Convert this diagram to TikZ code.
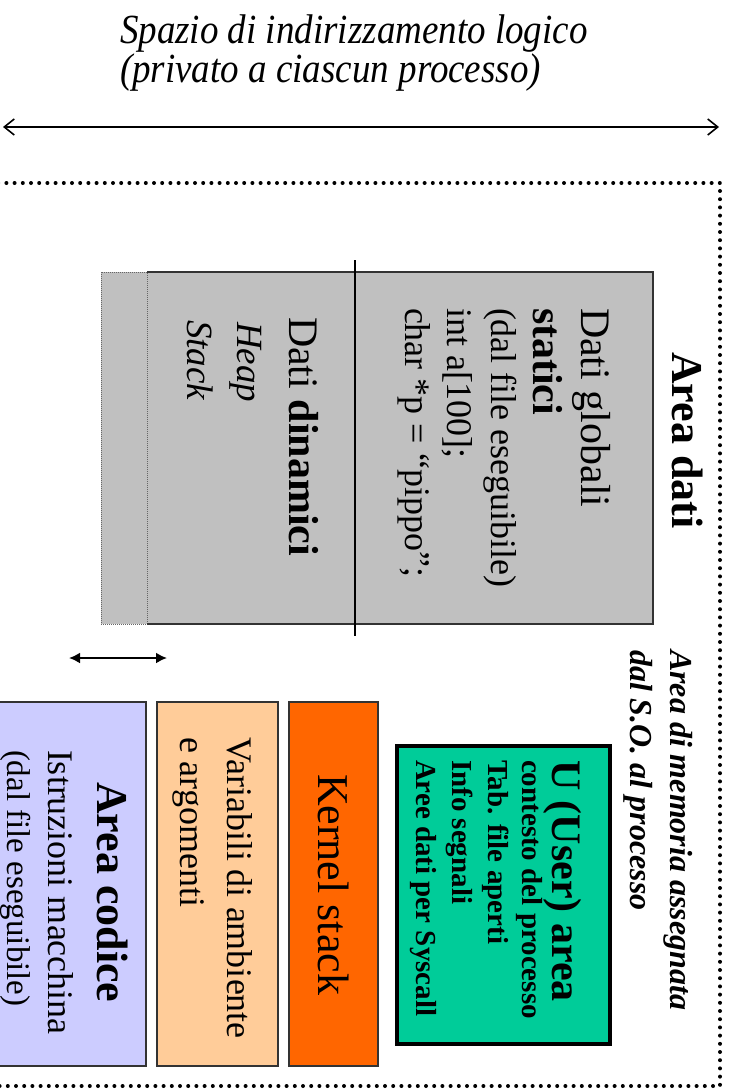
\documentclass[tikz,border=0pt]{standalone}
\usepackage{fontspec}
\setmainfont{Liberation Serif}
\usetikzlibrary{arrows.meta}
\definecolor{grayfill}{HTML}{C0C0C0}
\definecolor{greenfill}{HTML}{00CC99}
\definecolor{orangefill}{HTML}{FF6600}
\definecolor{peachfill}{HTML}{FFCC99}
\definecolor{lavfill}{HTML}{CCCCFF}
\definecolor{edgecol}{HTML}{333333}
\newcommand{\setfs}[1]{\fontsize{#1}{#1}\selectfont}
\begin{document}
\begin{tikzpicture}[x=1pt,y=-1pt,
  rt/.style={rotate=-90, anchor=base west, inner sep=0pt, outer sep=0pt},
  hz/.style={anchor=base west, inner sep=0pt, outer sep=0pt},
  boxedge/.style={draw=edgecol, line width=1.5pt},
  dotline/.style={line width=4pt, line cap=round, dash pattern=on 0pt off 8.2pt},
  toparrow/.style={line width=1.6pt, {Straight Barb[length=10pt,width=16pt,line width=1.6pt]}-{Straight Barb[length=10pt,width=16pt,line width=1.6pt]}},
  smallarrow/.style={line width=2pt, {Latex[length=11pt,width=11pt]}-{Latex[length=11pt,width=11pt]}}
]
\useasboundingbox (0,0) rectangle (731,1089);
\clip (0,0) rectangle (731,1089);
\fill[white] (0,0) rectangle (731,1089);

% title
\node[hz] (title1) at (120,44) {\scalebox{1}[1.12]{\setfs{37}\itshape Spazio di indirizzamento logico}};
\node[hz] (title2) at (120,83) {\scalebox{1}[1.12]{\setfs{37}\itshape (privato a ciascun processo)}};

% top arrow
\coordinate (topL) at (3,127);
\coordinate (topR) at (719,127);
\draw[toparrow] (topL) -- (topR);

% dotted frame
\coordinate (fTL) at (-10,183);
\coordinate (fTR) at (720,183);
\coordinate (fBR) at (720,1086);
\coordinate (fBL) at (-10,1086);
\draw[dotline] (fTL) -- (fTR) -- (fBR) -- (fBL);

% gray data area
\fill[grayfill] (101,272) rectangle (653,624);
\draw[line width=0.8pt, draw=black!60, dash pattern=on 1pt off 1pt] (101,272) rectangle (147,624);
\draw[boxedge] (147,272) -- (653,272) -- (653,624) -- (147,624);
\coordinate (vtop) at (355,260);
\coordinate (vbot) at (355,636);
\draw[line width=2pt] (vtop) -- (vbot);

% small arrow
\coordinate (saL) at (69,658);
\coordinate (saR) at (167,658);
\draw[smallarrow] (saL) -- (saR);

% lower boxes
\fill[lavfill] (-5,702) rectangle (146,1066);
\draw[boxedge] (-5,702) rectangle (146,1066);
\fill[peachfill] (157,702) rectangle (278,1066);
\draw[boxedge] (157,702) rectangle (278,1066);
\fill[orangefill] (289,702) rectangle (378,1066);
\draw[boxedge] (289,702) rectangle (378,1066);
\fill[greenfill] (397,746) rectangle (610,1044);
\draw[line width=3.5pt] (397,746) rectangle (610,1044);

% texts: area dati
\node[rt] (areadati) at (672,352) {\setfs{44}\bfseries Area dati};
\node[rt] (dglob) at (581,308) {\setfs{42}Dati globali};
\node[rt] (stat) at (533,308) {\setfs{42}\bfseries statici};
\node[rt] (dfe) at (491,308) {\setfs{36}(dal file eseguibile)};
\node[rt] (inta) at (447,308) {\setfs{36}int a[100];};
\node[rt] (charp) at (405,308) {\setfs{36}char *p = “pippo”;};
\node[rt] (ddin) at (289,317) {\setfs{42}Dati \textbf{dinamici}};
\node[rt] (heap) at (237,322) {\setfs{37}\itshape Heap};
\node[rt] (stack) at (187,320) {\setfs{37}\itshape Stack};

% right label
\node[rt] (am1) at (670,650) {\setfs{32}\bfseries\itshape Area di memoria assegnata};
\node[rt] (am2) at (630,650) {\setfs{32}\bfseries\itshape dal S.O. al processo};

% U area
\node[rt] (uarea) at (552,760) {\setfs{42}\bfseries U (User) area};
\node[rt] (u1) at (522,760) {\setfs{29}\bfseries contesto del processo};
\node[rt] (u2) at (488,760) {\setfs{29}\bfseries Tab. file aperti};
\node[rt] (u3) at (452,760) {\setfs{29}\bfseries Info segnali};
\node[rt] (u4) at (416,760) {\setfs{29}\bfseries Aree dati per Syscall};

% kernel stack
\node[rt] (kstack) at (318,774) {\setfs{44}Kernel stack};

% variabili
\node[rt] (var1) at (227,737) {\setfs{36}Variabili di ambiente};
\node[rt] (var2) at (180,737) {\setfs{36}e argomenti};

% area codice
\node[rt] (acod) at (97,782) {\setfs{44}\bfseries Area codice};
\node[rt] (istr) at (48,750) {\setfs{36}Istruzioni macchina};
\node[rt] (dfe2) at (8,750) {\setfs{33}(dal file eseguibile)};
\end{tikzpicture}
\end{document}
